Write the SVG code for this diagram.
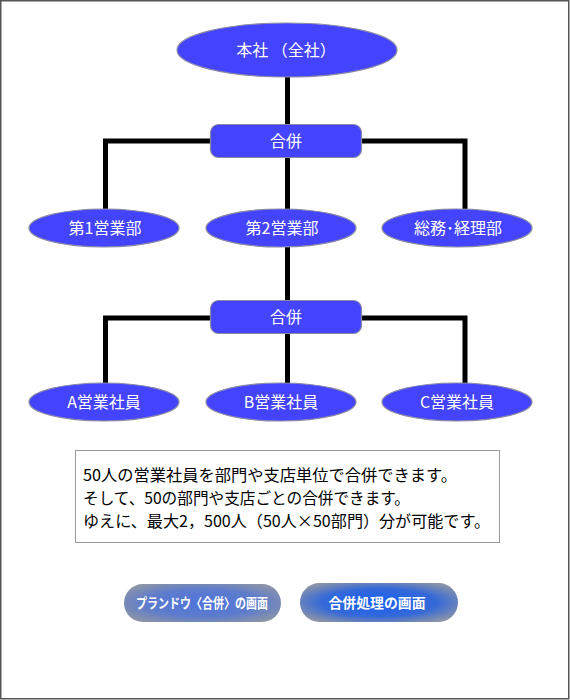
<svg xmlns="http://www.w3.org/2000/svg" width="570" height="700" viewBox="0 0 570 700">
<defs>
<style>
.n{fill:#4444ff;stroke:#8a8aa8;stroke-width:1.2}
.t{font-family:"Noto Sans CJK JP","Noto Sans CJK SC",sans-serif;fill:#fff;font-size:16px;text-anchor:middle}
.c{fill:none;stroke:#000;stroke-width:5}
.b{font-family:"Noto Sans CJK JP",sans-serif;fill:#fff;font-size:13.5px;font-weight:bold;text-anchor:middle}
.m{font-family:"Noto Sans CJK JP",sans-serif;fill:#000;font-size:16px}
</style>
<radialGradient id="g1" cx="0.5" cy="0.5" r="0.6">
<stop offset="0" stop-color="#4f74dc"/>
<stop offset="0.6" stop-color="#5e7ccc"/>
<stop offset="1" stop-color="#8a93a8"/>
</radialGradient>
<radialGradient id="g2" cx="0.5" cy="0.5" r="0.6">
<stop offset="0" stop-color="#1560f5"/>
<stop offset="0.6" stop-color="#3569d8"/>
<stop offset="1" stop-color="#8a93a8"/>
</radialGradient>
</defs>
<rect x="0.75" y="0.75" width="568" height="698" fill="#fff" stroke="#555" stroke-width="1.5"/>
<g id="connectors">
<path class="c" d="M287.5 76V124"/>
<path class="c" d="M105.5 209V141H465V209"/>
<path class="c" d="M287.5 158V210"/>
<path class="c" d="M287.5 247V300"/>
<path class="c" d="M105.5 384V318H465V384"/>
<path class="c" d="M287.5 334V384"/>
</g>
<g id="honsha"><ellipse class="n" cx="287" cy="50" rx="110" ry="27"/><text class="t" x="286" y="56">本社 （全社）</text></g>
<g id="gappei1"><rect class="n" x="210.5" y="124.5" width="151" height="33" rx="8"/><text class="t" x="286" y="147">合併</text></g>
<g id="eigyo1"><ellipse class="n" cx="104" cy="228" rx="75" ry="19"/><text class="t" x="105" y="234">第1営業部</text></g>
<g id="eigyo2"><ellipse class="n" cx="281" cy="228" rx="75" ry="19"/><text class="t" x="282" y="234">第2営業部</text></g>
<g id="somu"><ellipse class="n" cx="457" cy="228" rx="75" ry="19"/><text class="t" x="458" y="234">総務･経理部</text></g>
<g id="gappei2"><rect class="n" x="210.5" y="300.5" width="151" height="33" rx="8"/><text class="t" x="286" y="323">合併</text></g>
<g id="shainA"><ellipse class="n" cx="104" cy="402" rx="75" ry="19"/><text class="t" x="104" y="408">A営業社員</text></g>
<g id="shainB"><ellipse class="n" cx="281" cy="402" rx="75" ry="19"/><text class="t" x="281" y="408">B営業社員</text></g>
<g id="shainC"><ellipse class="n" cx="457" cy="402" rx="75" ry="19"/><text class="t" x="457" y="408">C営業社員</text></g>
<g id="note">
<rect x="75.5" y="450.5" width="424" height="92" fill="#fff" stroke="#999" stroke-width="1"/>
<text class="m" x="83" y="481" textLength="374" lengthAdjust="spacingAndGlyphs">50人の営業社員を部門や支店単位で合併できます。</text>
<text class="m" x="83" y="504" textLength="327" lengthAdjust="spacingAndGlyphs">そして、50の部門や支店ごとの合併できます。</text>
<text class="m" x="83" y="527" textLength="407" lengthAdjust="spacingAndGlyphs">ゆえに、最大2，500人（50人×50部門）分が可能です。</text>
</g>
<g id="btn1"><rect x="124" y="584" width="157" height="38" rx="19" fill="url(#g1)"/><text class="b" x="202" y="608" textLength="132" lengthAdjust="spacingAndGlyphs">プランドウ〈合併〉の画面</text></g>
<g id="btn2"><rect x="300" y="583" width="158" height="39" rx="19.5" fill="url(#g2)"/><text class="b" x="377" y="608" textLength="97" lengthAdjust="spacingAndGlyphs">合併処理の画面</text></g>
</svg>
